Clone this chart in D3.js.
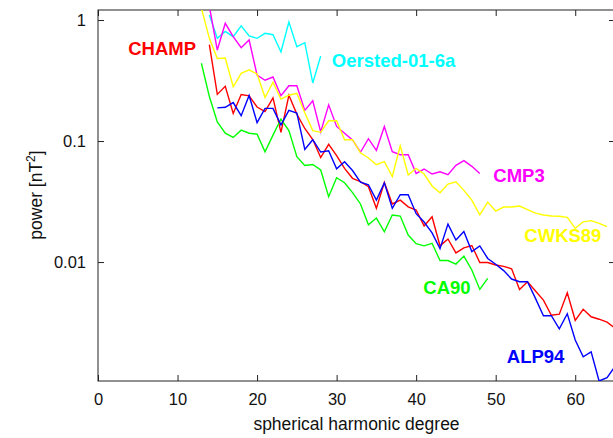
<!DOCTYPE html>
<html>
<head>
<meta charset="utf-8">
<script src="https://d3js.org/d3.v7.min.js"></script>
<style>
  body { margin: 0; background: #fff; }
  text { font-family: Arial, 'Liberation Sans', sans-serif; }
</style>
</head>
<body>
<script>

// power spectra, one value per spherical harmonic degree starting at *Start
var champStart = 14;
var champ = [0.627, 0.243, 0.283, 0.169, 0.242, 0.236, 0.191, 0.175, 0.227, 0.118,
             0.239, 0.167, 0.127, 0.103, 0.0731, 0.094, 0.0759, 0.0595, 0.0492, 0.0461,
             0.0419, 0.0278, 0.0454, 0.0302, 0.0325, 0.0286, 0.0269, 0.0199, 0.0237, 0.0136,
             0.0155, 0.0119, 0.0131, 0.0137, 0.00991, 0.00991, 0.00945, 0.00921, 0.00881, 0.00594,
             0.00687, 0.00576, 0.00485, 0.00363, 0.00371, 0.00558, 0.0033, 0.00407, 0.00353, 0.00337,
             0.00319, 0.00285];

var oerstedStart = 14;
var oersted = [1.10, 0.706, 0.806, 0.728, 0.895, 0.740, 0.706, 0.776, 0.756, 0.544,
               0.963, 0.602, 0.649, 0.302, 0.504];

var cmp3Start = 14;
var cmp3 = [1.3, 0.565, 0.939, 0.728, 0.590, 0.684, 0.351, 0.318, 0.338, 0.237,
            0.286, 0.286, 0.179, 0.215, 0.119, 0.199, 0.132, 0.116, 0.102, 0.0808,
            0.1045, 0.0838, 0.132, 0.0816, 0.077, 0.077, 0.054, 0.0587, 0.0534, 0.0557,
            0.0527, 0.063, 0.0688, 0.0618, 0.054];

var cwks89Start = 13;
var cwks89 = [1.25, 0.706, 0.481, 0.485, 0.281, 0.363, 0.388, 0.358, 0.229, 0.306,
              0.222, 0.239, 0.248, 0.171, 0.122, 0.118, 0.147, 0.147, 0.1025, 0.1025,
              0.080, 0.0724, 0.0637, 0.0677, 0.0509, 0.0915, 0.0524, 0.0595, 0.0534, 0.0425,
              0.0374, 0.0441, 0.0461, 0.0391, 0.0325, 0.0245, 0.0313, 0.0264, 0.0285, 0.0285,
              0.029, 0.0271, 0.0254, 0.0245, 0.024, 0.0239, 0.0234, 0.019, 0.0215, 0.022,
              0.0209, 0.0196];

var ca90Start = 13;
var ca90 = [0.439, 0.233, 0.144, 0.116, 0.107, 0.123, 0.116, 0.114, 0.0816, 0.112,
            0.152, 0.122, 0.0742, 0.0628, 0.064, 0.0576, 0.0347, 0.0498, 0.0452, 0.0375,
            0.0302, 0.0203, 0.0231, 0.0178, 0.0245, 0.024, 0.0167, 0.0142, 0.0136, 0.0143,
            0.0103, 0.0103, 0.00962, 0.0112, 0.0086, 0.00594, 0.00733];

var alp94Start = 15;
var alp94 = [0.188, 0.190, 0.208, 0.162, 0.238, 0.142, 0.186, 0.186, 0.136, 0.179,
             0.170, 0.0851, 0.1025, 0.0811, 0.0832, 0.059, 0.0675, 0.0571, 0.0458, 0.0435,
             0.0325, 0.0451, 0.0278, 0.036, 0.036, 0.0251, 0.0214, 0.0174, 0.0129, 0.0206,
             0.0152, 0.0179, 0.0122, 0.0136, 0.0107, 0.0096, 0.0085, 0.00724, 0.00688, 0.00688,
             0.00501, 0.0036, 0.00361, 0.00281, 0.00374, 0.00227, 0.00165, 0.00181, 0.00104, 0.00111,
             0.00137];

var xTicks = [0, 10, 20, 30, 40, 50, 60];
var yTicks = [1, 0.1, 0.01];

var series = [
    {name: 'CHAMP',         start: champStart,   values: champ,   color: '#ff0000', label: [3.8, 0.514]},
    {name: 'Oersted-01-6a', start: oerstedStart, values: oersted, color: '#00ffff', label: [29.4, 0.409]},
    {name: 'CMP3',          start: cmp3Start,    values: cmp3,    color: '#ff00ff', label: [49.7, 0.0458]},
    {name: 'CWKS89',        start: cwks89Start,  values: cwks89,  color: '#ffff00', label: [53.6, 0.0146]},
    {name: 'CA90',          start: ca90Start,    values: ca90,    color: '#00ff00', label: [40.9, 0.00544]},
    {name: 'ALP94',         start: alp94Start,   values: alp94,   color: '#0000ff', label: [51.4, 0.00146]}
];

var W = 613, H = 438;
var mLeft = 98, mTop = 10, mRight = 615, mBottom = 381;

var x = d3.scaleLinear().domain([0, 65]).range([mLeft, mRight]);
var y = d3.scaleLog().domain([0.00104, 1.21]).range([mBottom, mTop]);

var svg = d3.select('body').append('svg')
    .attr('width', W)
    .attr('height', H);

svg.append('rect').attr('width', W).attr('height', H).attr('fill', '#fff');

svg.append('clipPath').attr('id', 'plot-clip')
    .append('rect')
    .attr('x', mLeft).attr('y', mTop)
    .attr('width', mRight - mLeft).attr('height', mBottom - mTop);

// axes, ticks pointing inward on all four sides
var fmt = function(d) { return String(d); };

var gx = svg.append('g').attr('transform', 'translate(0,' + mBottom + ')')
    .call(d3.axisBottom(x).tickValues(xTicks).tickFormat(fmt).tickSizeInner(-6).tickSizeOuter(0).tickPadding(12));
var gxTop = svg.append('g').attr('transform', 'translate(0,' + mTop + ')')
    .call(d3.axisTop(x).tickValues(xTicks).tickFormat('').tickSizeInner(-6).tickSizeOuter(0));
var gy = svg.append('g').attr('transform', 'translate(' + mLeft + ',0)')
    .call(d3.axisLeft(y).tickValues(yTicks).tickFormat(fmt).tickSizeInner(-6).tickSizeOuter(0).tickPadding(12));
var gyRight = svg.append('g').attr('transform', 'translate(' + mRight + ',0)')
    .call(d3.axisRight(y).tickValues(yTicks).tickFormat('').tickSizeInner(-6).tickSizeOuter(0));

[gx, gxTop, gy, gyRight].forEach(function(g) {
    g.select('.domain').remove();
    g.selectAll('.tick line').attr('stroke', '#222');
    g.selectAll('.tick text').attr('font-size', 16.5).attr('fill', '#111')
        .style('font-family', 'Arial, "Liberation Sans", sans-serif');
});

svg.append('rect')
    .attr('x', mLeft).attr('y', mTop)
    .attr('width', mRight - mLeft).attr('height', mBottom - mTop)
    .attr('fill', 'none')
    .attr('stroke', '#222')
    .attr('stroke-width', 1);

// axis titles
svg.append('text')
    .attr('x', (mLeft + mRight) / 2)
    .attr('y', 430)
    .attr('text-anchor', 'middle')
    .attr('font-size', 17.5)
    .attr('fill', '#111')
    .text('spherical harmonic degree');

var yTitle = svg.append('text')
    .attr('transform', 'translate(42,195) rotate(-90)')
    .attr('text-anchor', 'middle')
    .attr('font-size', 17.5)
    .attr('fill', '#111');
yTitle.append('tspan').text('power [nT');
yTitle.append('tspan').attr('font-size', 12).attr('dy', -7).text('2');
yTitle.append('tspan').attr('dy', 7).text(']');

// spectra
var line = d3.line()
    .x(function(d) { return x(d[0]); })
    .y(function(d) { return y(d[1]); });

var plot = svg.append('g').attr('clip-path', 'url(#plot-clip)');

series.forEach(function(s) {
    var pts = s.values.map(function(v, i) { return [s.start + i, v]; });
    plot.append('path')
        .datum(pts)
        .attr('d', line)
        .attr('fill', 'none')
        .attr('stroke', s.color)
        .attr('stroke-width', 1.4)
        .attr('stroke-linejoin', 'miter');
});

// series names
svg.selectAll('.series-label')
    .data(series)
    .enter().append('text')
    .attr('class', 'series-label')
    .attr('x', function(d) { return x(d.label[0]); })
    .attr('y', function(d) { return y(d.label[1]); })
    .attr('font-size', 18.5)
    .attr('font-weight', 'bold')
    .attr('fill', function(d) { return d.color; })
    .text(function(d) { return d.name; });

</script>
</body>
</html>
